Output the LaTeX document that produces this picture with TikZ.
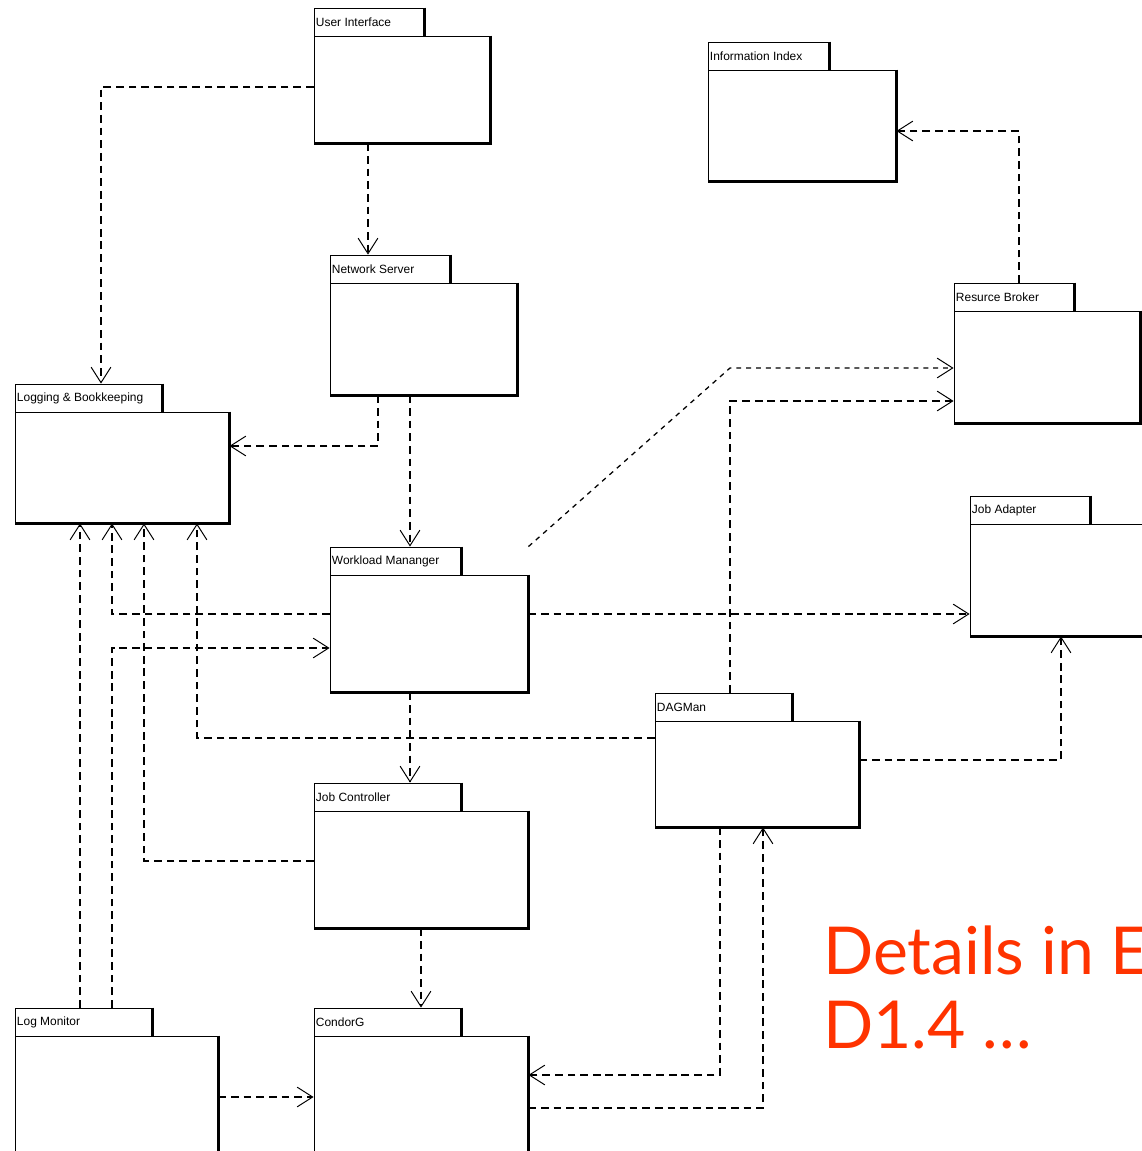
\documentclass[tikz,border=0pt]{standalone}
\usepackage{fontspec}
\setmainfont{Liberation Sans}
\newfontfamily\notefont{Lato}
\usetikzlibrary{arrows.meta, fit}
\definecolor{notered}{RGB}{255,51,0}

% UML package: name, body corners (x1,y1) (x2,y2), tab end, label
\newcommand{\umlpkg}[7]{%
  \node[pkgbody, fit={(#2,#3) (#4,#5)}] (#1) {};
  \node[pkgtab, fit={(#2,#3-28) (#6,#3)}] (#1-tab) {};
  \node[pkglabel] (#1-label) at (#1-tab.west) {#7};
  \draw[pkgshadow] (#1.north east) -- (#1.south east) -- (#1.south west);
  \draw[pkgshadow] (#1-tab.north east) -- (#1-tab.south east);
}

\begin{document}
\begin{tikzpicture}[x=0.025cm, y=-0.025cm,
    pkgbody/.style={draw, fill=white, line width=0.6pt, inner sep=0pt},
    pkgtab/.style={draw, fill=white, line width=0.6pt, inner sep=0pt},
    pkglabel/.style={anchor=west, inner sep=1.5pt, font=\fontsize{8.5}{10}\selectfont},
    pkgshadow/.style={line width=1.8pt},
    dep/.style={dashed, dash pattern=on 5.5pt off 3.5pt, line width=1.2pt,
      -{Straight Barb[length=11pt, width=14pt, line width=0.7pt]}},
    diag/.style={dash pattern=on 3.5pt off 3.5pt, line width=0.9pt,
      -{Straight Barb[length=11pt, width=14pt, line width=0.7pt]}},
    note/.style={anchor=base west, inner sep=0pt, text=notered,
      font=\notefont\fontsize{47}{53}\selectfont}]
  \useasboundingbox (0,0) rectangle (1142,1151);

  % packages
  \umlpkg{ui}{314}{36}{490}{143}{424}{User Interface}
  \umlpkg{ii}{708}{70}{896}{181}{829}{Information Index}
  \umlpkg{ns}{330}{283}{517}{395}{450}{Network Server}
  \umlpkg{rb}{954}{311}{1140}{423}{1074}{Resurce Broker}
  \umlpkg{lb}{15}{412}{229}{523}{162}{Logging \& Bookkeeping}
  \umlpkg{ja}{970}{524}{1190}{636}{1090}{Job Adapter}
  \umlpkg{wm}{330}{575}{528}{692}{461}{Workload Mananger}
  \umlpkg{dag}{655}{721}{859}{827}{792}{DAGMan}
  \umlpkg{jc}{314}{811}{528}{928}{461}{Job Controller}
  \umlpkg{lm}{15}{1036}{218}{1200}{152}{Log Monitor}
  \umlpkg{cg}{314}{1036}{528}{1200}{461}{CondorG}

  % dependencies
  \draw[dep] (ui.west |- 0,87) -| (101,0 |- lb-tab.north);
  \draw[dep] (368,0 |- ui.south) -- (368,0 |- ns-tab.north);
  \draw[dep] (378,0 |- ns.south) |- (lb.east |- 0,446);
  \draw[dep] (410,0 |- ns.south) -- (410,0 |- wm-tab.north);
  \draw[diag] (wm.east |- wm-tab.north) -- (730,368) -- (rb.west |- 0,368);
  \draw[dep] (730,0 |- dag-tab.north) |- (rb.west |- 0,401);
  \draw[dep] (1019,0 |- rb-tab.north) |- (ii.east |- 0,131);
  \draw[dep] (wm.west |- 0,614) -| (112,0 |- lb.south);
  \draw[dep] (wm.east |- 0,614) -- (ja.west |- 0,614);
  \draw[dep] (112,0 |- lm-tab.north) |- (wm.west |- 0,648);
  \draw[dep] (80,0 |- lm-tab.north) -- (80,0 |- lb.south);
  \draw[dep] (jc.west |- 0,861) -| (144,0 |- lb.south);
  \draw[dep] (dag.west |- 0,738) -| (197,0 |- lb.south);
  \draw[dep] (410,0 |- wm.south) -- (410,0 |- jc-tab.north);
  \draw[dep] (dag.east |- 0,760) -| (1061,0 |- ja.south);
  \draw[dep] (421,0 |- jc.south) -- (421,0 |- cg-tab.north);
  \draw[dep] (720,0 |- dag.south) |- (cg.east |- 0,1075);
  \draw[dep] (cg.east |- 0,1108) -| (763,0 |- dag.south);
  \draw[dep] (lm.east |- 0,1097) -- (cg.west |- 0,1097);

  % note
  \node[note] (note-a) at (823,974) {Details in E};
  \node[note] (note-b) at (823,1048) {D1.4 \dots};
\end{tikzpicture}
\end{document}
